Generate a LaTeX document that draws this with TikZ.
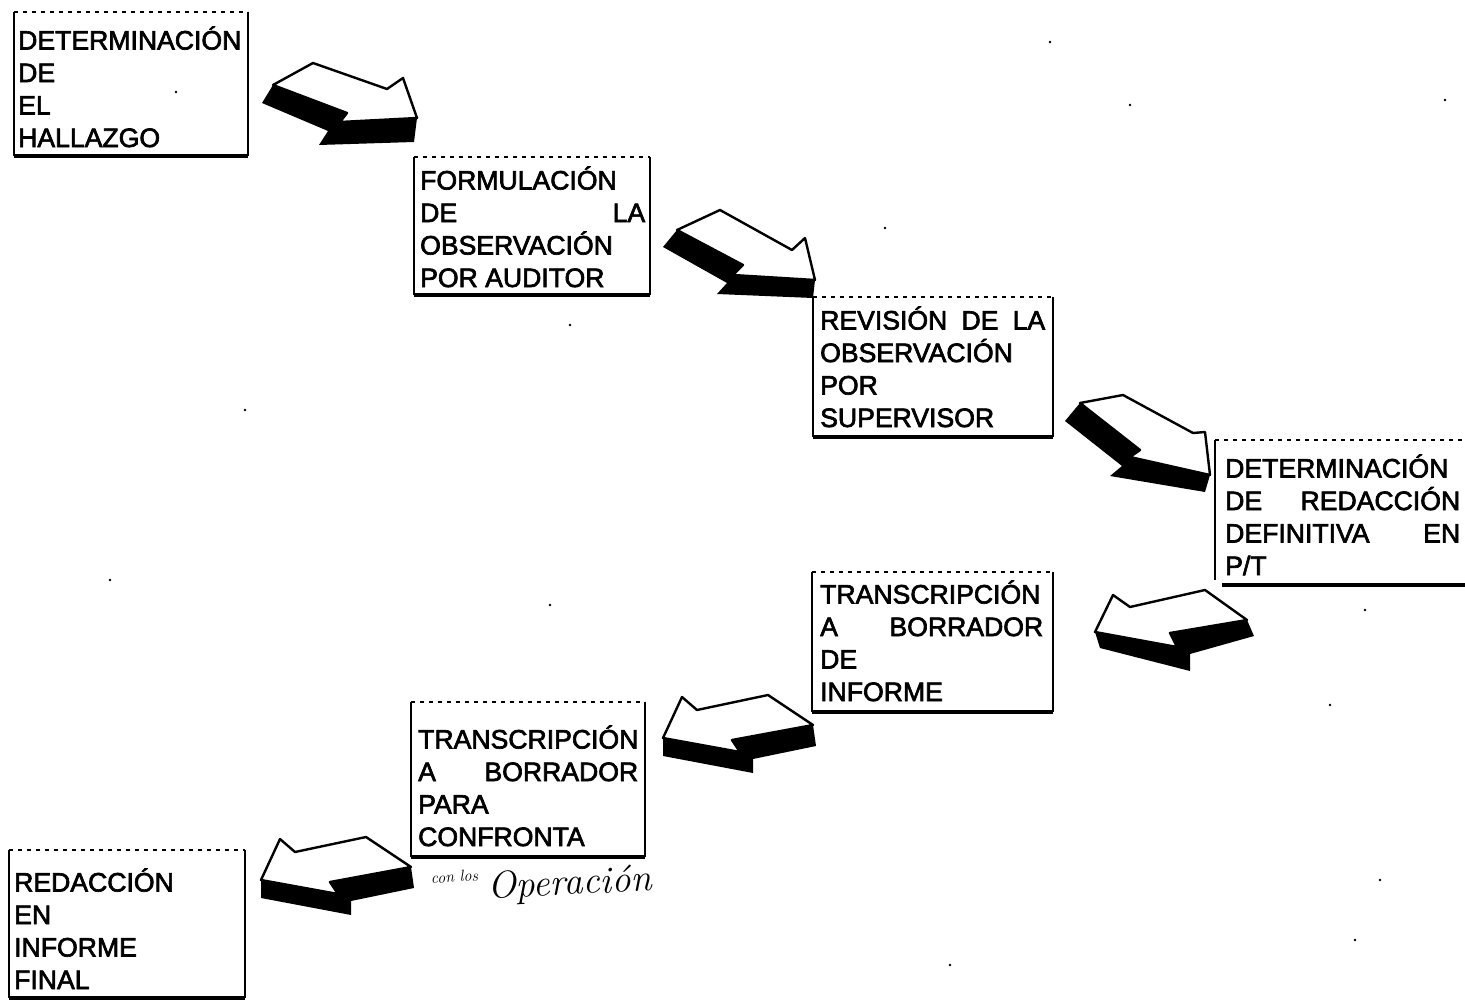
\documentclass[tikz,border=0pt]{standalone}
\usepackage{fontspec}
\newfontfamily\arialfont[FakeBold=2.5]{Liberation Sans}
\newcommand{\boxfont}{\arialfont\fontsize{26.6}{32.5}\selectfont}
\newcommand{\myframe}[5]{%
  \coordinate (#1nw) at (#2,#3);
  \coordinate (#1se) at (#4,#5);
  \draw[topline] (#1nw) -- (#1nw -| #1se);
  \draw[leftline] (#1nw) -- (#1nw |- #1se);
  \draw[rightline] (#1nw -| #1se) -- (#1se);
  \draw[bottomline] (#1nw |- #1se) -- (#1se);
}
\begin{document}
\begin{tikzpicture}[x=1pt,y=-1pt,
  boxtext/.style={inner sep=0pt, anchor=base west, font=\boxfont},
  topline/.style={line width=1.2pt, dash pattern=on 4pt off 5pt},
  leftline/.style={line width=1.5pt},
  rightline/.style={line width=2.8pt},
  bottomline/.style={line width=4pt},
  arrowside/.style={fill=black},
  arrowtop/.style={fill=white, draw=black, line width=2.4pt, line join=round},
  speck/.style={fill=black},
  hand/.style={inner sep=0pt, anchor=base west, font=\itshape}]
\useasboundingbox (0,0) rectangle (1465,1001);
\fill[white] (0,0) rectangle (1465,1001);

% ---------- boxes ----------
\myframe{b1}{14}{12}{248}{156}
\node[boxtext] (t1) at (18,49.5) {\parbox[t]{228pt}{DETERMINACIÓN\\DE\\EL\\HALLAZGO}};

\myframe{b2}{414}{157}{650}{295}
\node[boxtext] (t2) at (420,189.5) {\parbox[t]{225pt}{FORMULACIÓN\\DE\hfill LA\\OBSERVACIÓN\\POR AUDITOR}};

\myframe{b3}{813}{297}{1053}{437}
\node[boxtext] (t3) at (820,329.5) {\parbox[t]{225pt}{REVISIÓN\hfill DE\hfill LA\\OBSERVACIÓN\\POR\\SUPERVISOR}};

\coordinate (b4nw) at (1215,440);
\coordinate (b4se) at (1465,585);
\draw[topline] (b4nw) -- (b4nw -| b4se);
\draw[leftline] (b4nw) -- (1215,580);
\draw[bottomline] (1222,585) -- (b4se);
\node[boxtext] (t4) at (1225,477.5) {\parbox[t]{235pt}{DETERMINACIÓN\\DE\hfill REDACCIÓN\\DEFINITIVA\hfill EN\\P/T}};

\myframe{b5}{812}{572}{1053}{712}
\node[boxtext] (t5) at (820,603.5) {\parbox[t]{223pt}{TRANSCRIPCIÓN\\A\hfill BORRADOR\\DE\\INFORME}};

\myframe{b6}{411}{702}{645}{857}
\node[boxtext] (t6) at (418,748.5) {\parbox[t]{220pt}{TRANSCRIPCIÓN\\A\hfill BORRADOR\\PARA\\CONFRONTA}};

\myframe{b7}{9}{850}{245}{998}
\node[boxtext] (t7) at (14,891.5) {\parbox[t]{228pt}{REDACCIÓN\\EN\\INFORME\\FINAL}};

% ---------- 3D block arrows ----------
% arrow 1
\fill[arrowside] (273,85) -- (262,103) -- (328,131) -- (319,145) -- (414,142) -- (417,118) -- (340,122) -- (347,113) -- cycle;
\draw[arrowtop] (273,85) -- (313,63) -- (387,89) -- (403,78) -- (417,118) -- (340,122) -- (347,113) -- cycle;
% arrow 2
\fill[arrowside] (677,230) -- (663,247) -- (727,283) -- (717,294) -- (813,298) -- (815,280) -- (733,275) -- (743,265) -- cycle;
\draw[arrowtop] (677,230) -- (720,210) -- (792,250) -- (805,238) -- (815,280) -- (733,275) -- (743,265) -- cycle;
% arrow 3
\fill[arrowside] (1080,403) -- (1065,421) -- (1122,466) -- (1110,476) -- (1205,492) -- (1210,475) -- (1130,457) -- (1140,450) -- cycle;
\draw[arrowtop] (1080,403) -- (1123,395) -- (1193,433) -- (1205,432) -- (1210,475) -- (1130,457) -- (1140,450) -- cycle;
% arrow 4
\fill[arrowside] (1095,632) -- (1100,648) -- (1190,671) -- (1190,654) -- (1254,636) -- (1247,620) -- (1170,633) -- (1177,647) -- cycle;
\draw[arrowtop] (1095,632) -- (1113,595) -- (1130,607) -- (1205,590) -- (1247,620) -- (1170,633) -- (1177,647) -- cycle;
% arrow 5
\fill[arrowside] (663,738) -- (663,756) -- (753,773) -- (753,759) -- (816,746) -- (813,725) -- (732,740) -- (740,752) -- cycle;
\draw[arrowtop] (663,738) -- (682,697) -- (697,710) -- (768,695) -- (813,725) -- (732,740) -- (740,752) -- cycle;
% arrow 6
\fill[arrowside] (261,880) -- (261,898) -- (351,915) -- (351,901) -- (414,888) -- (411,867) -- (330,882) -- (338,894) -- cycle;
\draw[arrowtop] (261,880) -- (280,839) -- (295,852) -- (366,837) -- (411,867) -- (330,882) -- (338,894) -- cycle;

% ---------- handwritten note ----------
\node[hand, font=\itshape\fontsize{16}{16}\selectfont, rotate=4] (h1) at (431,884) {con los};
\node[hand, font=\itshape\fontsize{38}{38}\selectfont, rotate=3] (h2) at (488,899) {Operación};

% ---------- scan specks ----------
\foreach \p in {(1050,42),(1130,105),(1445,100),(885,228),(570,325),(245,410),(110,580),(550,605),(1365,610),(1330,705),(1380,880),(1355,940),(950,965),(176,92)}
  \fill[speck] \p circle (1.4);
\end{tikzpicture}
\end{document}
